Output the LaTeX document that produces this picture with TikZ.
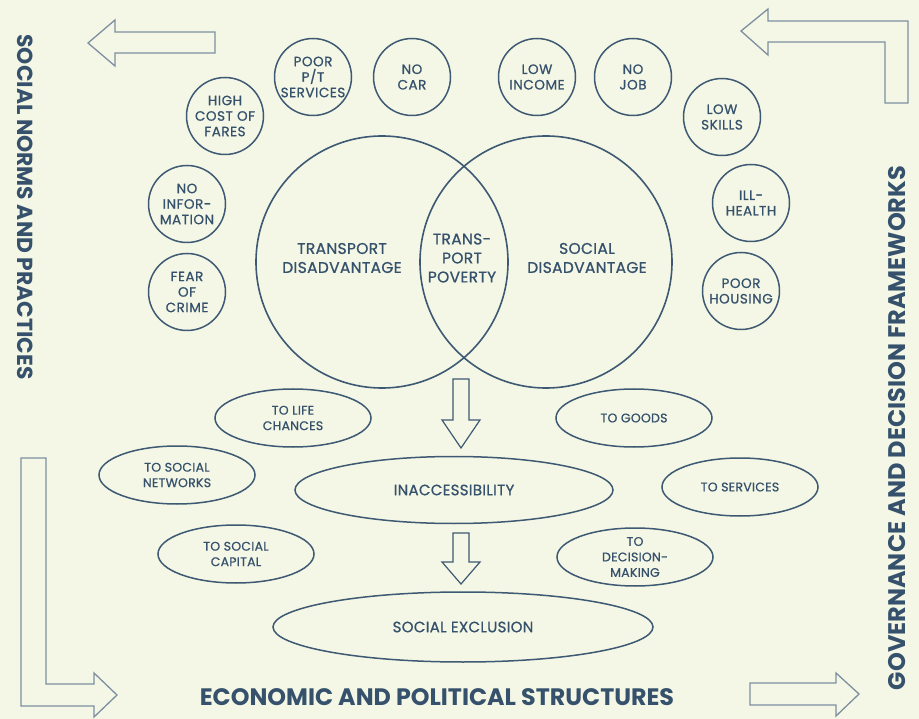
\documentclass[tikz,border=0pt]{standalone}
\usepackage{fontspec}
\setmainfont{Poppins}
\newfontfamily\medium{Poppins}[FakeBold=0.8, LetterSpace=2]
\newfontfamily\mediumwide{Poppins}[FakeBold=0.8, LetterSpace=4]
\usetikzlibrary{shapes.geometric}
\definecolor{bgcol}{HTML}{F4F7E5}
\definecolor{ink}{HTML}{3E5973}
\definecolor{txt}{HTML}{35516C}
\definecolor{frame}{HTML}{7D8FA0}
\tikzset{
  factor/.style={circle, draw=ink, line width=1.5pt, minimum size=77pt, inner sep=0pt,
    align=center, text=txt, font=\mediumwide\fontsize{13.5}{15.5}\selectfont},
  access/.style={ellipse, draw=ink, line width=1.5pt, minimum width=156pt, minimum height=58pt,
    inner sep=0pt, align=center, text=txt, font=\medium\fontsize{12.5}{15.5}\selectfont},
  outcome/.style={ellipse, draw=ink, line width=1.5pt, inner sep=0pt, align=center, text=txt,
    font=\medium\fontsize{15}{16}\selectfont},
  bigring/.style={circle, draw=ink, line width=1.6pt, minimum size=252pt, inner sep=0pt},
  ringlabel/.style={align=center, text=txt, font=\medium\fontsize{15.5}{19}\selectfont},
  hollowarrow/.style={draw=frame, line width=1.3pt, fill=bgcol, line join=miter},
  downarrow/.style={draw=ink, line width=1.2pt, fill=bgcol},
  sidelabel/.style={text=txt, font=\bfseries\fontsize{#1}{26}\selectfont},
}
\begin{document}
\begin{tikzpicture}[x=1pt, y=-1pt]
  \fill[bgcol] (0,0) rectangle (919,719);
  \useasboundingbox (0,0) rectangle (919,719);

  % frame arrows around the diagram
  \draw[hollowarrow] (88,43) -- (115,20) -- (115,32) -- (215,32) -- (215,53)
    -- (115,53) -- (115,66) -- cycle;
  \draw[hollowarrow] (741,31) -- (768,9) -- (768,21) -- (908,21) -- (908,103)
    -- (885,103) -- (885,42) -- (768,42) -- (768,55) -- cycle;
  \draw[hollowarrow] (21,458) -- (46,458) -- (46,684) -- (94,684) -- (94,673)
    -- (117,695) -- (94,717) -- (94,706) -- (21,706) -- cycle;
  \draw[hollowarrow] (750,683) -- (836,683) -- (836,673) -- (859,694)
    -- (836,716) -- (836,705) -- (750,705) -- cycle;

  % side labels
  \node[sidelabel=21.8, rotate=-90] (norms) at (25,207) {SOCIAL NORMS AND PRACTICES};
  \node[sidelabel=24, rotate=90] (gov) at (897,428) {GOVERNANCE AND DECISION FRAMEWORKS};
  \node[sidelabel=23.8] (econ) at (437,697) {ECONOMIC AND POLITICAL STRUCTURES};

  % Venn diagram
  \node[bigring] (td) at (382,262) {};
  \node[bigring] (sd) at (546,262) {};
  \node[ringlabel] (tdl) at (342,258) {TRANSPORT\\DISADVANTAGE};
  \node[ringlabel] (sdl) at (587,258) {SOCIAL\\DISADVANTAGE};
  \node[ringlabel] (tp) at (462,258) {TRANS-\\PORT\\POVERTY};

  % transport factors
  \node[factor] (fares) at (225,116) {HIGH\\COST OF\\FARES};
  \node[factor] (info) at (187,204) {NO\\INFOR-\\MATION};
  \node[factor] (crime) at (187,292) {FEAR\\OF\\CRIME};
  \node[factor] (pt) at (313,77) {POOR\\P/T\\SERVICES};
  \node[factor] (car) at (412,77) {NO\\CAR};
  % social factors
  \node[factor] (income) at (537,77) {LOW\\INCOME};
  \node[factor] (job) at (633,77) {NO\\JOB};
  \node[factor] (skills) at (722,117) {LOW\\SKILLS};
  \node[factor] (health) at (751,203) {ILL-\\HEALTH};
  \node[factor] (housing) at (741,291) {POOR\\HOUSING};

  % forms of inaccessibility
  \node[access] (life) at (293,418) {TO LIFE\\CHANCES};
  \node[access] (networks) at (177,475) {TO SOCIAL\\NETWORKS};
  \node[access] (capital) at (236,554) {TO SOCIAL\\CAPITAL};
  \node[access] (goods) at (634,418) {TO GOODS};
  \node[access] (services) at (740,487) {TO SERVICES};
  \node[access] (decision) at (635,557) {TO\\DECISION-\\MAKING};

  \node[outcome, minimum width=318pt, minimum height=67pt] (inacc) at (454,490) {INACCESSIBILITY};
  \node[outcome, minimum width=380pt, minimum height=70pt] (excl) at (463,627) {SOCIAL EXCLUSION};

  % flow arrows
  \draw[downarrow] (453,379) -- (469,379) -- (469,420) -- (480,420) -- (461,448)
    -- (442,420) -- (453,420) -- cycle;
  \draw[downarrow] (453,533) -- (469,533) -- (469,562) -- (480,562) -- (461,584)
    -- (442,562) -- (453,562) -- cycle;
\end{tikzpicture}
\end{document}
